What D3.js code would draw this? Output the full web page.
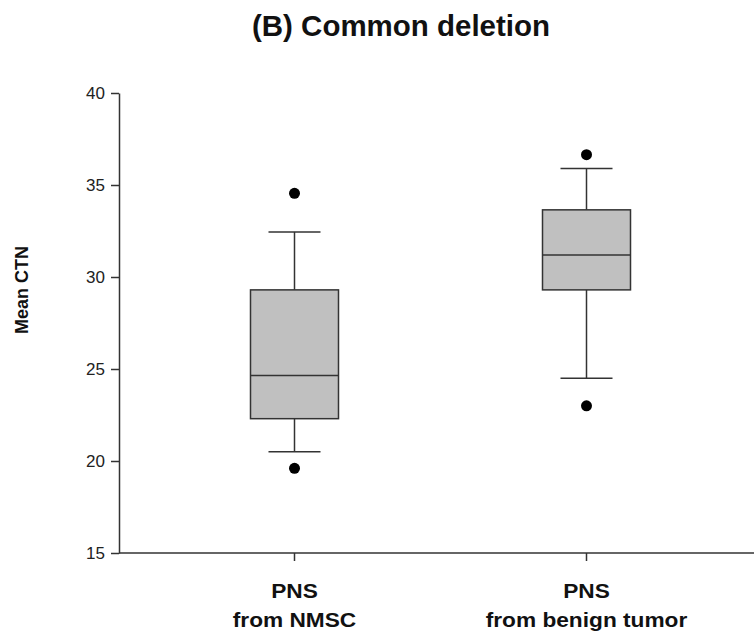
<!DOCTYPE html>
<html>
<head>
<meta charset="utf-8">
<script src="https://cdn.jsdelivr.net/npm/d3@7"></script>
<style>
    body { margin: 0; background: #fff; }
    svg { display: block; }
    .tick text { font-family: "Liberation Sans", Arial, sans-serif; font-size: 17px; fill: #222; }
    .domain, .tick line { stroke: #333; stroke-width: 1.5; }
</style>
</head>
<body>
<div class="chart"></div>
<script>
// box plot values
const categories = ['PNS\nfrom NMSC', 'PNS\nfrom benign tumor'];
const whiskerLow = [20.5, 24.5];
const q1 = [22.3, 29.3];
const median = [24.65, 31.2];
const q3 = [29.3, 33.65];
const whiskerHigh = [32.45, 35.9];
const outliers = [[34.55, 19.6], [36.65, 23.0]];
const yTicks = [15, 20, 25, 30, 35, 40];

const width = 754;
const height = 635;
const margin = { top: 93, right: 0, bottom: 82, left: 119 };

const svg = d3.select('.chart')
    .append('svg')
    .attr('width', width)
    .attr('height', height);

const x = d3.scalePoint()
    .domain(categories)
    .range([294.5, 586.5]);

const y = d3.scaleLinear()
    .domain([15, 40])
    .range([height - margin.bottom, margin.top]);

const boxWidth = 88;
const capWidth = 52;
const labelFont = '"Liberation Sans", Arial, sans-serif';

// title
svg.append('text')
    .attr('x', 401)
    .attr('y', 36)
    .attr('text-anchor', 'middle')
    .attr('textLength', 298)
    .attr('lengthAdjust', 'spacingAndGlyphs')
    .style('font-family', labelFont)
    .style('font-weight', 'bold')
    .style('font-size', '30px')
    .attr('fill', '#111')
    .text('(B) Common deletion');

// y axis
svg.append('g')
    .attr('transform', `translate(${margin.left},0)`)
    .call(d3.axisLeft(y)
        .tickValues(yTicks)
        .tickSize(8)
        .tickSizeOuter(0)
        .tickPadding(6));

// x axis, line runs out to the right edge
const xAxis = svg.append('g')
    .attr('transform', `translate(0,${y(15)})`);
xAxis.append('line')
    .attr('x1', margin.left)
    .attr('x2', width)
    .attr('stroke', '#333')
    .attr('stroke-width', 1.5);
xAxis.selectAll('.cat-tick')
    .data(categories)
    .enter()
    .append('line')
    .attr('x1', (d) => x(d))
    .attr('x2', (d) => x(d))
    .attr('y1', 0)
    .attr('y2', 8)
    .attr('stroke', '#333')
    .attr('stroke-width', 1.5);

const catLabels = svg.append('g')
    .selectAll('text')
    .data(categories)
    .enter()
    .append('g');
catLabels.selectAll('text')
    .data((d) => d.split('\n').map((t) => ({ t, c: d })))
    .enter()
    .append('text')
    .attr('text-anchor', 'middle')
    .attr('x', (d) => x(d.c))
    .attr('y', (d, i) => 598 + i * 29)
    .style('font-family', labelFont)
    .style('font-weight', 'bold')
    .style('font-size', '21px')
    .attr('fill', '#111')
    .text((d) => d.t)
    .each(function (d) {
        // stretch a little, the original lettering is wider
        const w = this.getComputedTextLength();
        d3.select(this)
            .attr('textLength', w * 1.08)
            .attr('lengthAdjust', 'spacingAndGlyphs');
    });

// y label
svg.append('text')
    .attr('transform', `translate(28,290) rotate(-90)`)
    .attr('text-anchor', 'middle')
    .style('font-family', labelFont)
    .style('font-weight', 'bold')
    .style('font-size', '18px')
    .attr('fill', '#111')
    .text('Mean CTN');

// boxes
const boxes = svg.append('g')
    .selectAll('.box')
    .data(categories.map((c, i) => ({ c, i })))
    .enter()
    .append('g')
    .attr('class', 'box');

// whiskers
boxes.append('line')
    .attr('x1', (d) => x(d.c))
    .attr('x2', (d) => x(d.c))
    .attr('y1', (d) => y(whiskerHigh[d.i]))
    .attr('y2', (d) => y(q3[d.i]));
boxes.append('line')
    .attr('x1', (d) => x(d.c))
    .attr('x2', (d) => x(d.c))
    .attr('y1', (d) => y(q1[d.i]))
    .attr('y2', (d) => y(whiskerLow[d.i]));
boxes.append('line')
    .attr('x1', (d) => x(d.c) - capWidth / 2)
    .attr('x2', (d) => x(d.c) + capWidth / 2)
    .attr('y1', (d) => y(whiskerHigh[d.i]))
    .attr('y2', (d) => y(whiskerHigh[d.i]));
boxes.append('line')
    .attr('x1', (d) => x(d.c) - capWidth / 2)
    .attr('x2', (d) => x(d.c) + capWidth / 2)
    .attr('y1', (d) => y(whiskerLow[d.i]))
    .attr('y2', (d) => y(whiskerLow[d.i]));

boxes.append('rect')
    .attr('x', (d) => x(d.c) - boxWidth / 2)
    .attr('width', boxWidth)
    .attr('y', (d) => y(q3[d.i]))
    .attr('height', (d) => y(q1[d.i]) - y(q3[d.i]))
    .attr('fill', '#c0c0c0');

boxes.append('line')
    .attr('x1', (d) => x(d.c) - boxWidth / 2)
    .attr('x2', (d) => x(d.c) + boxWidth / 2)
    .attr('y1', (d) => y(median[d.i]))
    .attr('y2', (d) => y(median[d.i]));

boxes.selectAll('line, rect')
    .attr('stroke', '#333')
    .attr('stroke-width', 1.5);

// outliers
boxes.selectAll('.dot')
    .data((d) => outliers[d.i].map((v) => ({ v, c: d.c })))
    .enter()
    .append('circle')
    .attr('class', 'dot')
    .attr('cx', (d) => x(d.c))
    .attr('cy', (d) => y(d.v))
    .attr('r', 5.5)
    .attr('fill', '#000');
</script>
</body>
</html>
